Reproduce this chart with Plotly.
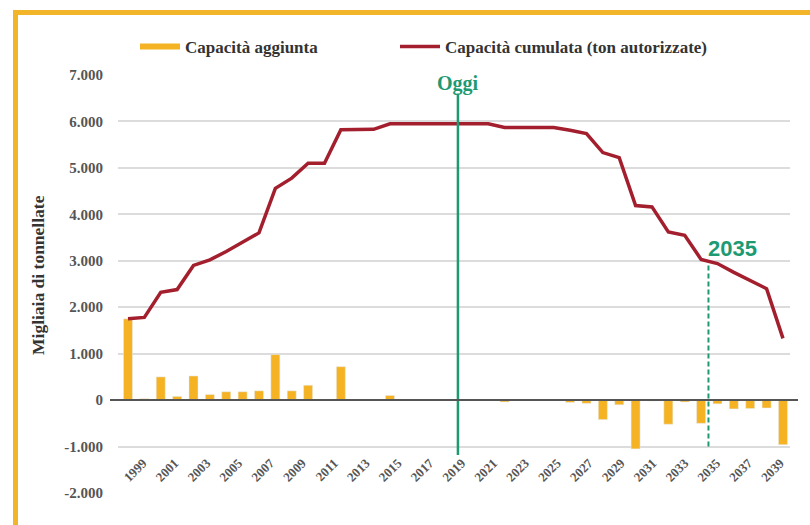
import plotly.graph_objects as go

years = list(range(1999, 2040))
capacita_aggiunta = [1750, 30, 500, 80, 520, 120, 180, 180, 200, 980,      # 1999-2008
                     200, 320, 0, 720, 0, 0, 100, 0, 0, 0,                 # 2009-2018
                     0, 0, 0, -40, 0, 0, 0, -50, -70, -420,                # 2019-2028
                     -100, -1050, -20, -520, -40, -500, -80, -190, -180, -170,  # 2029-2038
                     -960]                                                 # 2039
capacita_cumulata = [1750, 1780, 2320, 2380, 2900, 3020, 3200, 3400, 3600, 4560,
                     4780, 5100, 5100, 5820, 5820, 5830, 5950, 5950, 5950, 5950,
                     5950, 5950, 5950, 5870, 5870, 5870, 5870, 5810, 5740, 5330,
                     5220, 4190, 4160, 3620, 3550, 3030, 2940, 2750, 2570, 2400,
                     1330]
x_tick_years = list(range(1999, 2040, 2))
x_tick_labels = [str(y) for y in x_tick_years]
y_tick_vals = [7000, 6000, 5000, 4000, 3000, 2000, 1000, 0, -1000, -2000]
y_tick_labels = ["7.000", "6.000", "5.000", "4.000", "3.000", "2.000", "1.000", "0", "-1.000", "-2.000"]
y_title = "Migliaia di tonnellate"

oggi_x = 2019.15
oggi_y = [-1180, 6600]
x2035 = 2034.45
y2035 = [-1000, 2950]

ORANGE = "#F5B324"
RED = "#A31F2E"
GREEN = "#1E9A73"
BORDER = "#F2B52A"
SERIF = "Liberation Serif"

W, H = 810, 525
L, R, T, B = 118, 790, 75, 493

# in the original the year labels are spaced slightly tighter than the bars
LABEL_SPACING = 0.973

def px_x(p):
    return (p - L) / (R - L)

def px_y(p):
    return (B - p) / (B - T)

label_positions = [x_tick_years[0] + (y - x_tick_years[0]) * LABEL_SPACING for y in x_tick_years]

fig = go.Figure()

fig.add_trace(go.Bar(x=years, y=capacita_aggiunta, marker_color=ORANGE, width=0.55,
                     showlegend=False, name="Capacità aggiunta"))
fig.add_trace(go.Scatter(x=years, y=capacita_cumulata, mode="lines",
                         line=dict(color=RED, width=3.5), showlegend=False,
                         name="Capacità cumulata (ton autorizzate)"))
# legend entries
fig.add_trace(go.Scatter(x=[None], y=[None], mode="lines", line=dict(color=ORANGE, width=6),
                         name="Capacità aggiunta", legend="legend"))
fig.add_trace(go.Scatter(x=[None], y=[None], mode="lines", line=dict(color=RED, width=3.5),
                         name="Capacità cumulata (ton autorizzate)", legend="legend2"))

fig.add_trace(go.Scatter(x=[oggi_x, oggi_x], y=oggi_y, mode="lines",
                         line=dict(color=GREEN, width=2.5), showlegend=False, hoverinfo="skip"))
fig.add_trace(go.Scatter(x=[x2035, x2035], y=y2035, mode="lines",
                         line=dict(color=GREEN, width=2, dash="5px,3px"), showlegend=False,
                         hoverinfo="skip"))

shapes = [
    dict(type="line", xref="paper", yref="y", x0=px_x(110), x1=px_x(798), y0=0, y1=0,
         line=dict(color="#555555", width=2), layer="above"),
    dict(type="rect", xref="paper", yref="paper", x0=px_x(15.5), x1=px_x(840),
         y0=px_y(560), y1=px_y(12.5), line=dict(color=BORDER, width=5)),
]

annotations = [
    dict(x=oggi_x, y=6820, xref="x", yref="y", text="<b>Oggi</b>", showarrow=False,
         font=dict(family=SERIF, size=20, color=GREEN)),
    dict(x=x2035, y=3270, xref="x", yref="y", text="<b>2035</b>", showarrow=False,
         xanchor="left", xshift=-2,
         font=dict(family="Liberation Sans", size=22, color=GREEN)),
    dict(x=px_x(38), y=px_y(275), xref="paper", yref="paper", text=y_title,
         textangle=-90, showarrow=False, xanchor="center", yanchor="middle",
         font=dict(family=SERIF, size=17.5, color="#333333", weight="bold")),
]

legend_font = dict(family=SERIF, size=17, color="#333333", weight="bold")

fig.update_layout(
    width=W, height=H,
    margin=dict(l=L, r=W - R, t=T, b=H - B),
    paper_bgcolor="white", plot_bgcolor="white",
    shapes=shapes,
    annotations=annotations,
    legend=dict(orientation="h", x=px_x(135), y=px_y(47), xanchor="left", yanchor="middle",
                font=legend_font, itemwidth=40, bgcolor="rgba(0,0,0,0)"),
    legend2=dict(orientation="h", x=px_x(395), y=px_y(47), xanchor="left", yanchor="middle",
                 font=legend_font, itemwidth=40, bgcolor="rgba(0,0,0,0)"),
    xaxis=dict(range=[1998.39, 2039.43], tickmode="array", tickvals=label_positions,
               ticktext=x_tick_labels, tickangle=-45, showgrid=False, zeroline=False,
               showline=False, anchor="free", position=px_y(452), ticklabelshift=15,
               tickfont=dict(family=SERIF, size=13, color="#555555", weight="bold")),
    yaxis=dict(range=[-2000, 7000], tickmode="array", tickvals=y_tick_vals,
               ticktext=y_tick_labels, showgrid=True, gridcolor="#dcdcdc", gridwidth=2,
               zeroline=False, showline=False, ticklabelstandoff=14,
               tickfont=dict(family=SERIF, size=15, color="#555555", weight="bold")),
)

fig.write_html("out.html")
